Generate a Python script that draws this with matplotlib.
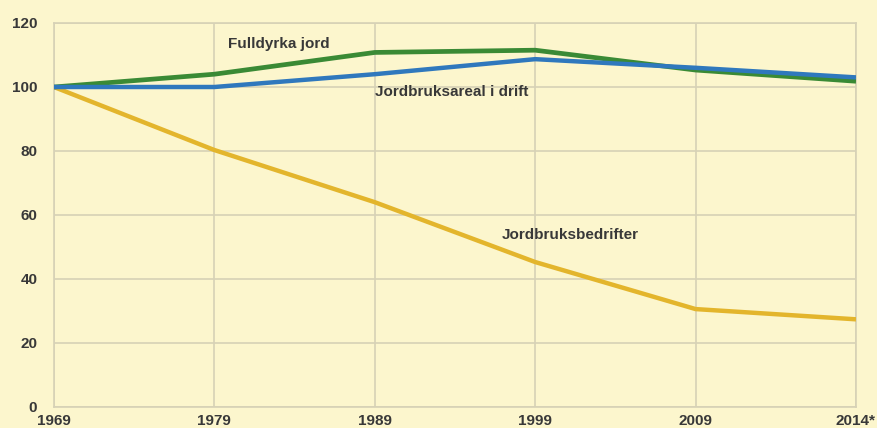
import matplotlib
matplotlib.use("Agg")
import matplotlib.pyplot as plt

years = ["1969", "1979", "1989", "1999", "2009", "2014*"]
fulldyrka = [100, 104, 110.8, 111.5, 105.3, 101.8]
jordbruksareal = [100, 100, 104, 108.7, 106, 103]
bedrifter = [100, 80.3, 64, 45.3, 30.6, 27.4]
yticks = [0, 20, 40, 60, 80, 100, 120]

plt.rcParams['font.family'] = ['Liberation Sans', 'DejaVu Sans']

bg = "#fcf6cd"
gridc = "#d6d1b6"
tc = "#383838"
fig = plt.figure(figsize=(8.78, 4.28), dpi=100, facecolor=bg)
ax = fig.add_axes([54/878, 1 - 407/428, (856-54)/878, (407-23)/428])
ax.set_facecolor(bg)

x = list(range(len(years)))
ax.plot(x, bedrifter, color="#e3b52c", lw=3.2, solid_capstyle="butt", zorder=3)
ax.plot(x, fulldyrka, color="#3a8a35", lw=3.4, solid_capstyle="butt", zorder=3)
ax.plot(x, jordbruksareal, color="#2f78bd", lw=3.2, solid_capstyle="butt", zorder=4)

ax.set_xlim(0, 5)
ax.set_ylim(0, 120)
ax.set_xticks(x)
ax.set_xticklabels(years, fontweight="bold")
ax.set_yticks(yticks)
ax.set_yticklabels([str(v) for v in yticks], fontweight="bold")
ax.grid(True, color=gridc, lw=1.2, zorder=0)
for s in ax.spines.values():
    s.set_color(gridc)
    s.set_linewidth(1.2)
ax.tick_params(length=0, labelsize=11, labelcolor=tc)
ax.tick_params(axis="x", pad=5)
ax.tick_params(axis="y", pad=12)

ax.text(1.085, 113.3, "Fulldyrka jord", fontsize=11, fontweight="bold", color=tc, ha="left", va="center")
ax.text(2.0, 98.4, "Jordbruksareal i drift", fontsize=11, fontweight="bold", color=tc, ha="left", va="center")
ax.text(2.793, 53.8, "Jordbruksbedrifter", fontsize=11, fontweight="bold", color=tc, ha="left", va="center")

fig.savefig("out.png", dpi=100, facecolor=bg)
